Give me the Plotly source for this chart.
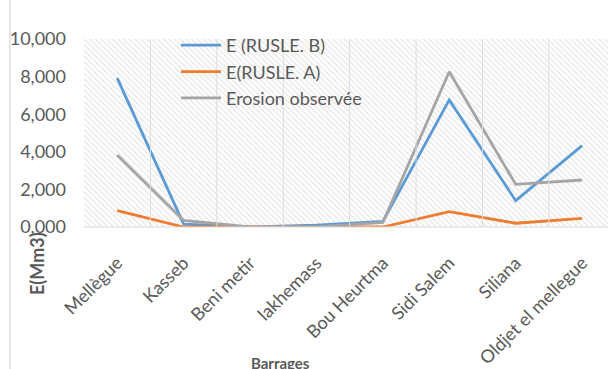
import plotly.graph_objects as go

categories = ["Mellègue", "Kasseb", "Beni metir", "lakhemass", "Bou Heurtma",
              "Sidi Salem", "Siliana", "Oldjet el mellegue"]
rusle_b = [7920, 150, 0, 100, 300, 6760, 1400, 4330]
rusle_a = [870, 0, 0, 0, 0, 820, 200, 460]
observed = [3830, 350, 0, 0, 250, 8260, 2270, 2500]
y_ticks = [0, 2000, 4000, 6000, 8000, 10000]
y_tick_labels = ["0,000", "2,000", "4,000", "6,000", "8,000", "10,000"]

FONT = "Lato"
GRAY = "#595959"

fig = go.Figure()

# hatched plot background (decoration on hidden primary axes)
fig.add_trace(go.Bar(
    x=[0.5], y=[1], width=[1], xaxis="x", yaxis="y",
    marker=dict(color="rgba(0,0,0,0)", line=dict(width=0),
                pattern=dict(shape="\\", fgcolor="#cccccc", bgcolor="white",
                             size=4, solidity=0.3)),
    showlegend=False, hoverinfo="skip"))

series = [("E (RUSLE. B)", rusle_b, "#5B9BD5"),
          ("E(RUSLE. A)", rusle_a, "#ED7D31"),
          ("Erosion observée", observed, "#A5A5A5")]
for name, vals, col in series:
    fig.add_trace(go.Scatter(x=categories, y=vals, name=name, mode="lines",
                             xaxis="x2", yaxis="y2", legendgroup=name,
                             line=dict(color=col, width=2.8)))

L, R, T, B = 84, 0, 39, 142
W, H = 608, 369
pw = W - L - R
ph = H - T - B
fig.update_layout(
    width=W, height=H,
    margin=dict(l=L, r=R, t=T, b=B, autoexpand=False),
    paper_bgcolor="white", plot_bgcolor="white",
    font=dict(family=FONT, color=GRAY, size=17),
    showlegend=True,
    legend=dict(x=(176 - L) / pw, y=1.064, xanchor="left", yanchor="top",
                bgcolor="rgba(0,0,0,0)", font=dict(size=18, color=GRAY),
                itemwidth=40, tracegroupgap=0),
    xaxis=dict(range=[0, 1], visible=False, fixedrange=True),
    yaxis=dict(range=[0, 1], visible=False, fixedrange=True),
    xaxis2=dict(overlaying="x", type="category", range=[-0.5, 7.39], tickangle=-45,
                showgrid=False, ticks="", showline=False, zeroline=False,
                ticklabelstandoff=21, ticklabelshift=0,
                tickfont=dict(size=18, color=GRAY), anchor="y2"),
    yaxis2=dict(overlaying="y", range=[0, 10000], tickvals=y_ticks, ticktext=y_tick_labels,
                showgrid=True, gridcolor="#dcdcdc", gridwidth=1,
                zeroline=False, showline=False, ticks="", side="left",
                ticklabelstandoff=17, tickfont=dict(size=18, color=GRAY), anchor="x2"),
    bargap=0,
)

# vertical category gridlines
for i in range(8):
    fig.add_shape(type="line", xref="x2", yref="paper", x0=i + 0.5, x1=i + 0.5,
                  y0=0, y1=1, line=dict(color="#dcdcdc", width=1), layer="above")
# bottom axis line
fig.add_shape(type="line", xref="paper", yref="paper", x0=0, x1=1, y0=0, y1=0,
              line=dict(color="#d9d9d9", width=1))
# chart border at left
fig.add_shape(type="line", xref="paper", yref="paper",
              x0=(10 - L) / pw, x1=(10 - L) / pw, y0=-5, y1=5,
              line=dict(color="#d0d0d0", width=1))

fig.add_annotation(text="<b>E(Mm3)</b>", xref="paper", yref="paper",
                   x=(37 - L) / pw, y=(H - B - 264) / ph,
                   textangle=-90, showarrow=False, font=dict(size=18, color=GRAY),
                   xanchor="center", yanchor="middle")
fig.add_annotation(text="<b>Barrages</b>", xref="paper", yref="paper",
                   x=(280 - L) / pw, y=(H - B - 363) / ph,
                   showarrow=False, font=dict(size=15, color=GRAY),
                   xanchor="center", yanchor="middle")

fig.write_html("out.html", config={"displayModeBar": False},
               post_script="document.body.style.margin='0';")
